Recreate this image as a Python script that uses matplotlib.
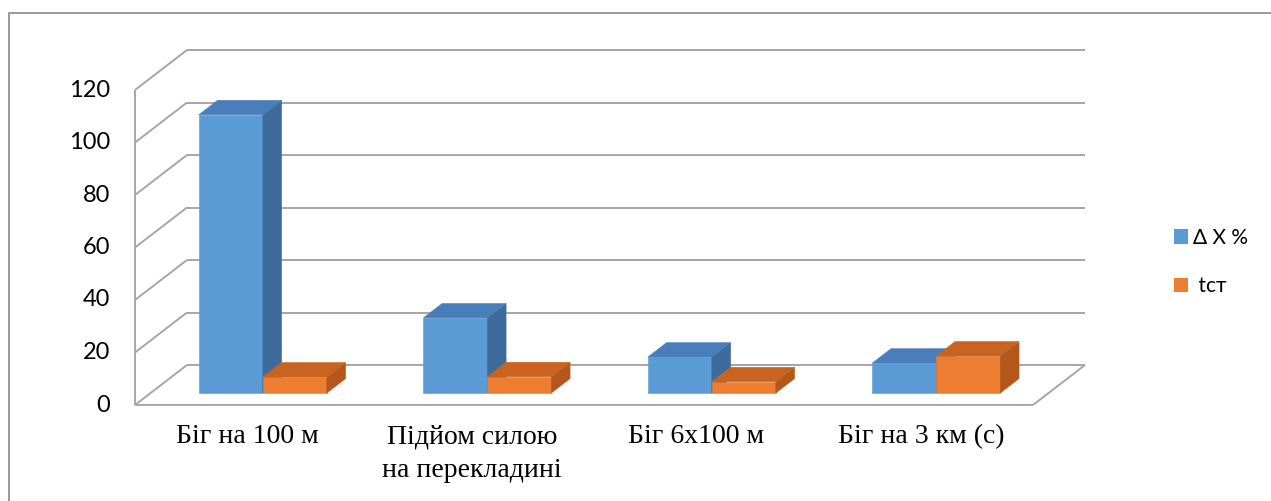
import matplotlib
matplotlib.use("Agg")
import matplotlib.pyplot as plt
from matplotlib.patches import Polygon, Patch
from matplotlib.lines import Line2D

# ---------------- data ----------------
categories = ["Біг на 100 м", "Підйом силою\nна перекладині", "Біг 6х100 м", "Біг на 3 км (с)"]
series_names = ["Δ X %", " tст"]
delta_x = [106, 28.6, 13.7, 11.4]
t_st = [6.1, 6.2, 4.3, 14.1]
y_ticks = [0, 20, 40, 60, 80, 100, 120]

# ---------------- style ----------------
W, H = 1271, 501
GRID = "#A6A6A6"
BLUE = ("#5B9BD5", "#4A7EBB", "#3D6B9C")   # front, top, side
ORANGE = ("#ED7D31", "#C96420", "#B3571B")
SANS = ["Lato", "DejaVu Sans"]
SERIF = ["Liberation Serif", "DejaVu Serif"]

fig = plt.figure(figsize=(W / 100, H / 100), dpi=100)
fig.patch.set_facecolor("white")
ax = fig.add_axes([135 / W, (H - 405) / H, 898 / W, 315 / H])
n = len(categories)
ax.set_xlim(-0.5, n - 0.5)
ax.set_ylim(0, max(y_ticks))
ax.axis("off")

# oblique depth projection (fraction of full depth -> data offsets)
DX = 52 / 224.5
DY = 40 / 2.625


def P(x, v, d):
    return (x + d * DX, v + d * DY)


def line(p, q, **kw):
    ax.plot([p[0], q[0]], [p[1], q[1]], color=GRID, lw=1.4, clip_on=False,
            solid_capstyle="butt", zorder=1, **kw)


x_left, x_right = -0.5, n - 0.5
ymax = max(y_ticks)
# back wall gridlines and side wall diagonals
for v in y_ticks:
    line(P(x_left, v, 1), P(x_right, v, 1))
    line(P(x_left, v, 0), P(x_left, v, 1))
# front-left vertical edge
line(P(x_left, 0, 0), P(x_left, ymax, 0))
# floor front and right edges
line(P(x_left, 0, 0), P(x_right, 0, 0))
line(P(x_right, 0, 0), P(x_right, 0, 1))

# bars
w = 0.285
d0, d1 = 0.30, 0.66


def bar3d(x0, v, cols):
    front = [P(x0, 0, d0), P(x0 + w, 0, d0), P(x0 + w, v, d0), P(x0, v, d0)]
    side = [P(x0 + w, 0, d0), P(x0 + w, 0, d1), P(x0 + w, v, d1), P(x0 + w, v, d0)]
    top = [P(x0, v, d0), P(x0 + w, v, d0), P(x0 + w, v, d1), P(x0, v, d1)]
    for poly, c in ((front, cols[0]), (side, cols[2]), (top, cols[1])):
        ax.add_patch(Polygon(poly, closed=True, facecolor=c, edgecolor=c,
                             lw=0.4, clip_on=False, zorder=3))


for i in range(n):
    bar3d(i - w, delta_x[i], BLUE)
    bar3d(i, t_st[i], ORANGE)

# y tick labels
for v in y_ticks:
    ax.annotate(str(v), xy=P(x_left, v, 0), xytext=(-18, 0), textcoords="offset points",
                ha="right", va="center", fontsize=17, family=SANS, color="#000000",
                annotation_clip=False)

# category labels
for i, lab in enumerate(categories):
    ax.annotate(lab, xy=(i, 0), xytext=(0, -14), textcoords="offset points",
                ha="center", va="top", multialignment="center", fontsize=20,
                family=SERIF, color="#000000", linespacing=1.45,
                annotation_clip=False)

# legend
handles = [Patch(facecolor=BLUE[0], edgecolor="none"),
           Patch(facecolor=ORANGE[0], edgecolor="none")]
fig.legend(handles, series_names, loc="center left",
           bbox_to_anchor=(1174 / W, 1 - 262 / H), frameon=False,
           borderpad=0, borderaxespad=0, handlelength=0.68, handleheight=0.68,
           handletextpad=0.25, labelspacing=1.35,
           prop={"family": SANS, "size": 15})

# outer chart border (left and top)
fig.add_artist(Line2D([8.5 / W, 8.5 / W, 1.0], [0.0, 1 - 12.5 / H, 1 - 12.5 / H],
                      transform=fig.transFigure, color="#9A9A9A", lw=1.4))

fig.savefig("out.png", dpi=100, facecolor="white")
